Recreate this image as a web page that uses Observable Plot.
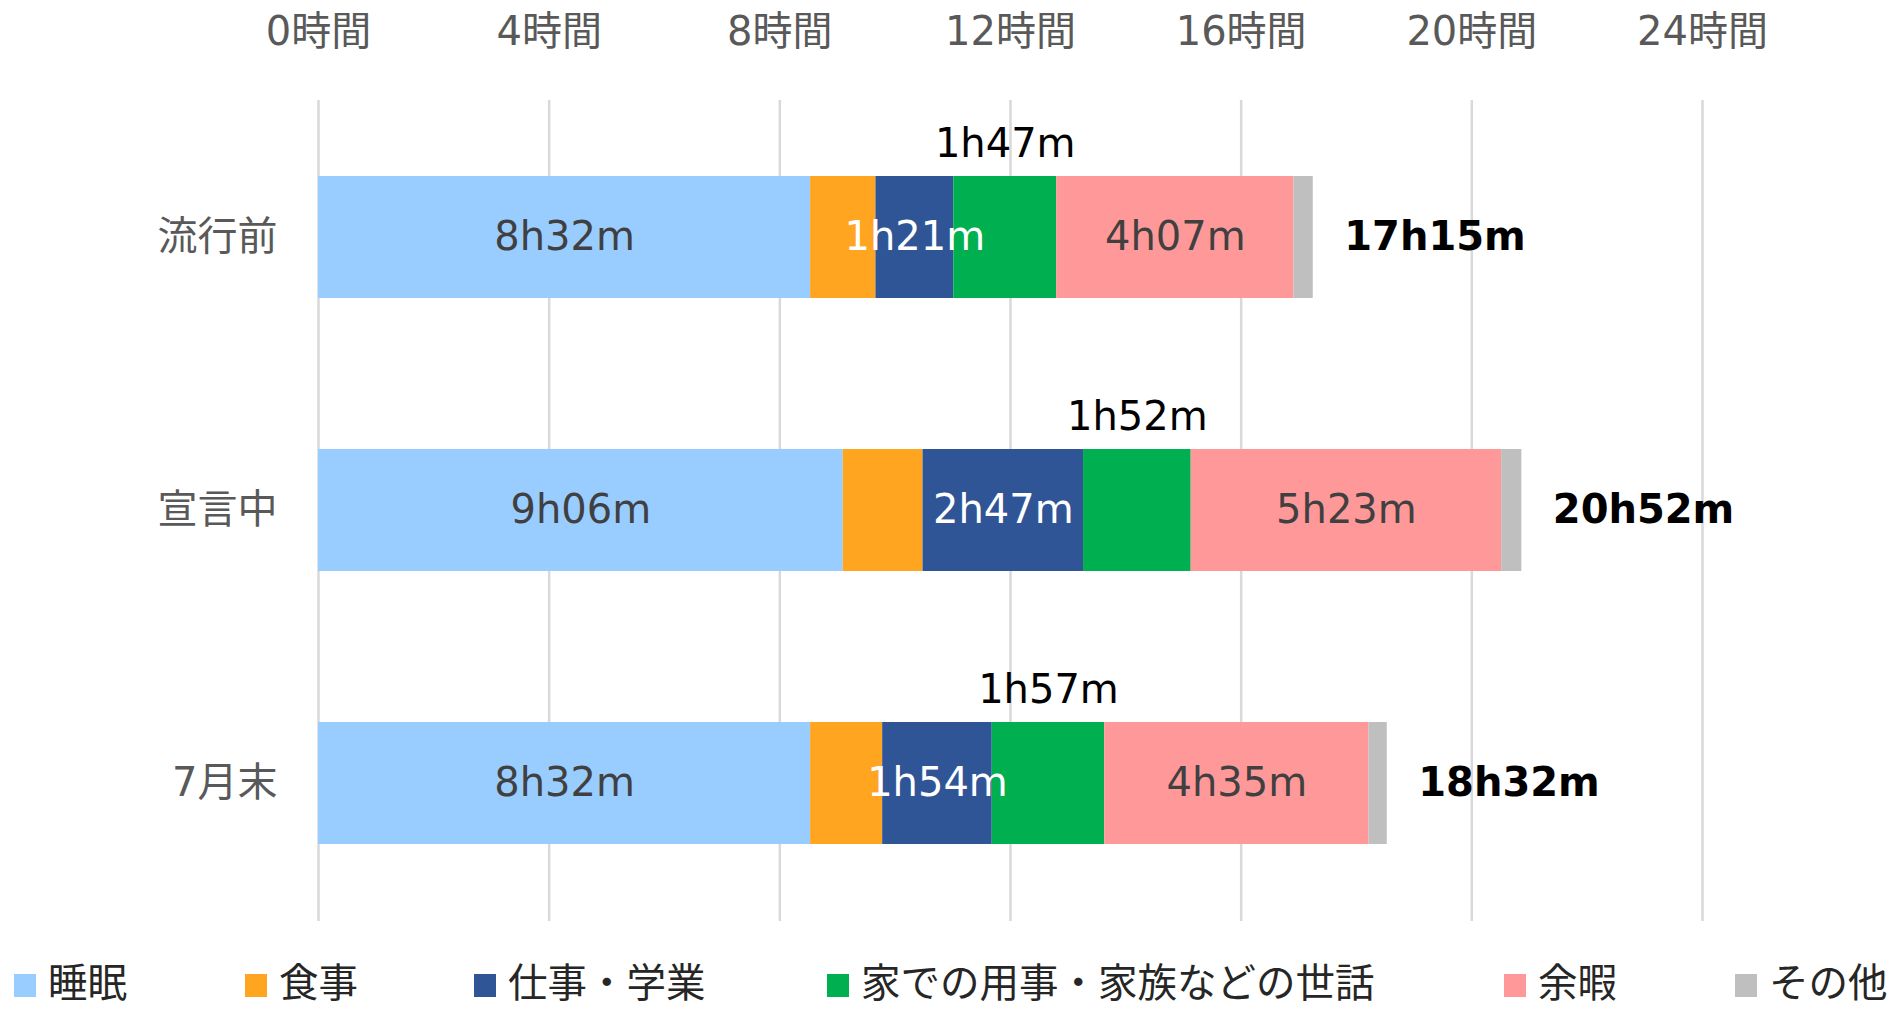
<!DOCTYPE html>
<html><head><meta charset="utf-8">
<script src="https://cdn.jsdelivr.net/npm/d3@7"></script>
<script src="https://cdn.jsdelivr.net/npm/@observablehq/plot@0.6"></script>
<style>
body{margin:0;background:#fff;font-family:"DejaVu Sans","Noto Sans CJK JP",sans-serif;}
#wrap{position:relative;width:1901px;height:1011px;}
#chart{position:absolute;left:0;top:0;}
.leg{position:absolute;top:960px;height:40px;line-height:40px;display:flex;align-items:center;font-size:39.5px;color:#262626;white-space:nowrap;font-family:"Noto Sans CJK JP",sans-serif;}
.sw{width:22px;height:23px;margin-right:12px;margin-top:10px;flex:none;}
</style></head><body><div id="wrap"><div id="chart"></div></div>
<script>
// ---- data (minutes) ----
const categories = ["流行前", "宣言中", "7月末"];
const seriesNames = ["睡眠", "食事", "仕事・学業", "家での用事・家族などの世話", "余暇", "その他"];
const seriesColors = ["#99ccff", "#ffa520", "#2f5597", "#00b050", "#ff9999", "#bfbfbf"];
const sleepMin   = [512, 546, 512];
const mealMin    = [68, 83, 75];
const workMin    = [81, 167, 114];
const homeMin    = [107, 112, 117];
const leisureMin = [247, 323, 275];
const otherMin   = [20, 21, 19];
const xTicks = [0, 4, 8, 12, 16, 20, 24];

const seriesValues = [sleepMin, mealMin, workMin, homeMin, leisureMin, otherMin];
const fmt = m => `${Math.floor(m / 60)}h${String(m % 60).padStart(2, "0")}m`;

const rows = [];
categories.forEach((c, i) => {
  seriesNames.forEach((s, j) => {
    rows.push({cat: c, series: s, min: seriesValues[j][i], hours: seriesValues[j][i] / 60});
  });
});
const totals = categories.map((c, i) => {
  const m = d3.sum(seriesValues, v => v[i]);
  return {cat: c, min: m, hours: m / 60};
});

const labelFor = names => d => names.includes(d.series) ? fmt(d.min) : "";

const chart = Plot.plot({
  width: 1901,
  height: 930,
  marginLeft: 318,
  marginRight: 199,
  marginTop: 100,
  marginBottom: 9,
  style: {fontFamily: '"DejaVu Sans","Noto Sans CJK JP",sans-serif', fontSize: "40px", background: "#fff"},
  x: {domain: [0, 24], ticks: xTicks},
  y: {domain: categories, paddingInner: 0.552, paddingOuter: 0.276, label: null},
  color: {domain: seriesNames, range: seriesColors},
  marks: [
    Plot.gridX(xTicks, {stroke: "#d9d9d9", strokeOpacity: 1, strokeWidth: 2.5}),
    Plot.barX(rows, Plot.stackX({x: "hours", y: "cat", fill: "series"})),
    Plot.text(rows, Plot.stackX({x: "hours", y: "cat", text: labelFor(["睡眠", "余暇"]), fill: "#404040", fontSize: 40})),
    Plot.text(rows, Plot.stackX({x: "hours", y: "cat", text: labelFor(["仕事・学業"]), fill: "#ffffff", fontSize: 40})),
    Plot.text(rows, Plot.stackX({x: "hours", y: "cat", text: labelFor(["家での用事・家族などの世話"]), fill: "#000000", fontSize: 40, dy: -93})),
    Plot.text(totals, {x: "hours", y: "cat", text: d => fmt(d.min), textAnchor: "start", dx: 31, fill: "#000", fontWeight: "bold", fontSize: 40}),
    Plot.axisX(xTicks, {anchor: "top", tickSize: 0, tickPadding: 56, tickFormat: d => `${d}時間`, fill: "#595959", fontSize: 40, label: null}),
    Plot.axisY({tickSize: 0, tickPadding: 41, fill: "#595959", fontSize: 40, label: null})
  ]
});
document.getElementById("chart").appendChild(chart);

// ---- legend ----
const legendLeft = [14, 245, 474, 827, 1504, 1735];
const wrap = document.getElementById("wrap");
seriesNames.forEach((s, j) => {
  const item = document.createElement("div");
  item.className = "leg";
  item.style.left = legendLeft[j] + "px";
  const sw = document.createElement("span");
  sw.className = "sw";
  sw.style.background = seriesColors[j];
  const t = document.createElement("span");
  t.textContent = s;
  item.appendChild(sw);
  item.appendChild(t);
  wrap.appendChild(item);
});
</script>
</body></html>
